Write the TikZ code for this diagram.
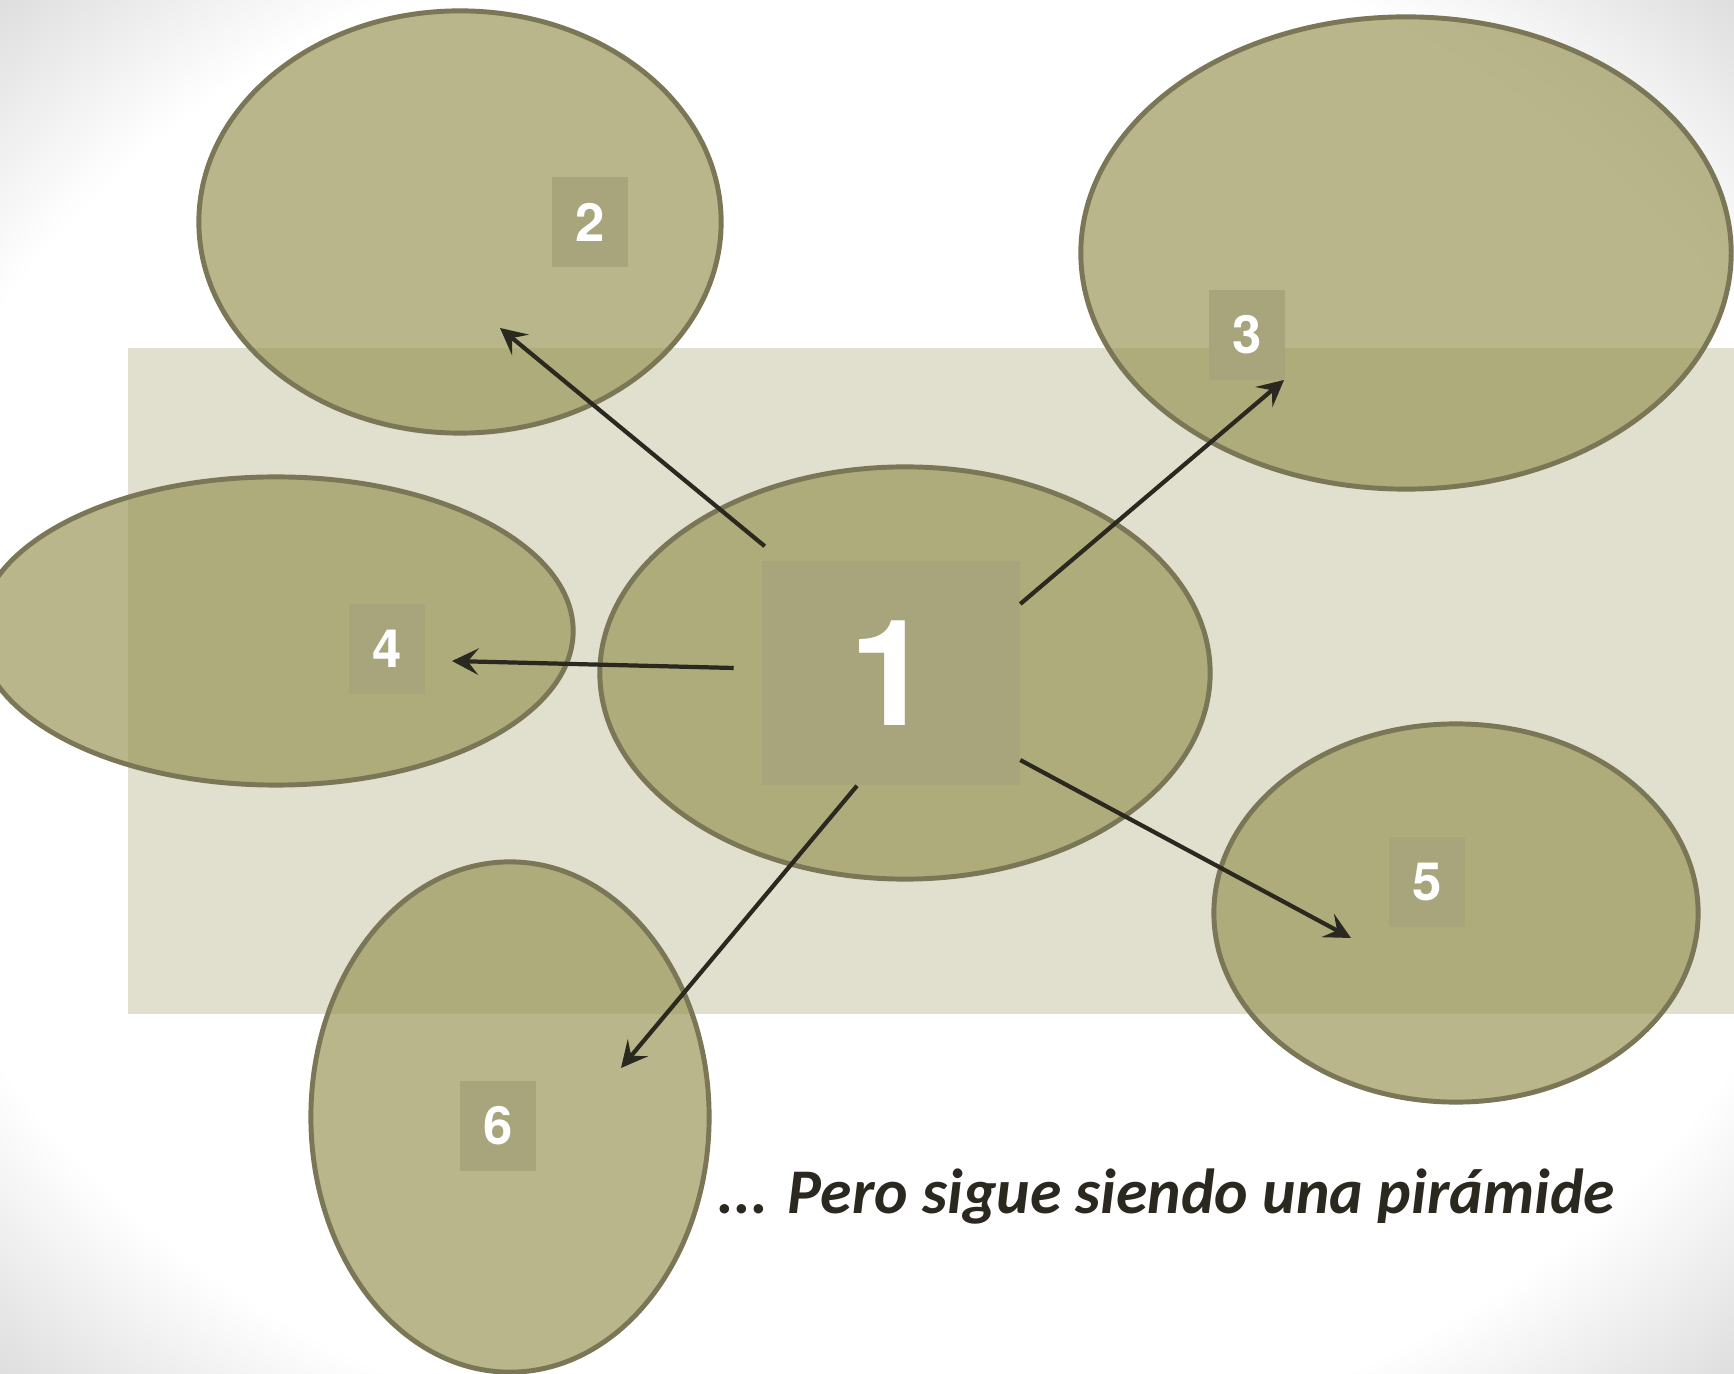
\documentclass[tikz,border=0pt]{standalone}
\usepackage{fontspec}
\newfontfamily\calib{Carlito}
\newfontfamily\arialf{TeX Gyre Heros}
\usetikzlibrary{arrows.meta,positioning,shapes.geometric}
\definecolor{ink}{HTML}{2B2820}
\definecolor{olive}{RGB}{150,147,81}
\definecolor{rim}{HTML}{7A7656}
\definecolor{band}{HTML}{E1E0CF}
\definecolor{tag}{HTML}{A8A47C}
\pgfdeclareradialshading{vignette}{\pgfpoint{0bp}{0bp}}{rgb(0bp)=(1,1,1);rgb(28.5bp)=(1,1,1);rgb(35.4bp)=(.87,.87,.875);rgb(50bp)=(.87,.87,.875)}
\tikzset{>={Stealth[length=7.5pt,width=7.5pt,inset=3pt]},
  bubble/.style={ellipse,draw=rim,line width=1.4pt,fill=olive,fill opacity=.67,inner sep=0pt},
  numtag/.style={fill=tag,text=white,inner sep=0pt,minimum width=.76cm,minimum height=.9cm,font=\arialf\bfseries\fontsize{15}{15}\selectfont},
  bigtag/.style={numtag,minimum width=2.57cm,minimum height=2.24cm,font=\arialf\bfseries\fontsize{42}{42}\selectfont},
  link/.style={->,draw=ink,line width=1.2pt}}
\begin{document}
\begin{tikzpicture}[x=.01cm,y=-.01cm]
\useasboundingbox(0,0)rectangle(1734,1374);
\clip(0,0)rectangle(1734,1374);
\shade[shading=vignette](0,0)rectangle(1734,1374);
\fill[band](128,348)rectangle(1734,1014);
\node[bubble,minimum width=5.22cm,minimum height=4.22cm](e2)at(460,222){};
\node[bubble,minimum width=6.5cm,minimum height=4.72cm](e3)at(1406,253){};
\node[bubble,minimum width=6.1cm,minimum height=4.12cm](e1)at(905,673){};
\node[bubble,minimum width=5.94cm,minimum height=3.08cm](e4)at(276,631){};
\node[bubble,minimum width=4.84cm,minimum height=3.78cm](e5)at(1456,913){};
\node[bubble,minimum width=3.98cm,minimum height=5.1cm](e6)at(510,1117){};
\node[bigtag](b1)at(891,673){1};
\node[numtag](b2)at(590,222){2};
\node[numtag](b3)at(1247,335){3};
\node[numtag](b4)at(387,649){4};
\node[numtag](b5)at(1427,882){5};
\node[numtag](b6)at(498,1126){6};
\coordinate(t2)at(500,328);
\coordinate(t3)at(1284,380);
\coordinate(t4)at(452,661);
\coordinate(t5)at(1351,938);
\coordinate(t6)at(621,1068);
\draw[link]([xshift=.03cm,yshift=.14cm]b1.north west)--(t2);
\draw[link]([yshift=.69cm]b1.east)--(t3);
\draw[link]([xshift=-.28cm,yshift=.05cm]b1.west)--(t4);
\draw[link]([yshift=-.87cm]b1.east)--(t5);
\draw[link]([xshift=-.34cm]b1.south)--(t6);
\node[anchor=base west,inner sep=0pt,text=ink,font=\calib\bfseries\itshape\fontsize{18.1}{18.1}\selectfont](note)at(717,1213){... Pero sigue siendo una pirámide};
\end{tikzpicture}
\end{document}
